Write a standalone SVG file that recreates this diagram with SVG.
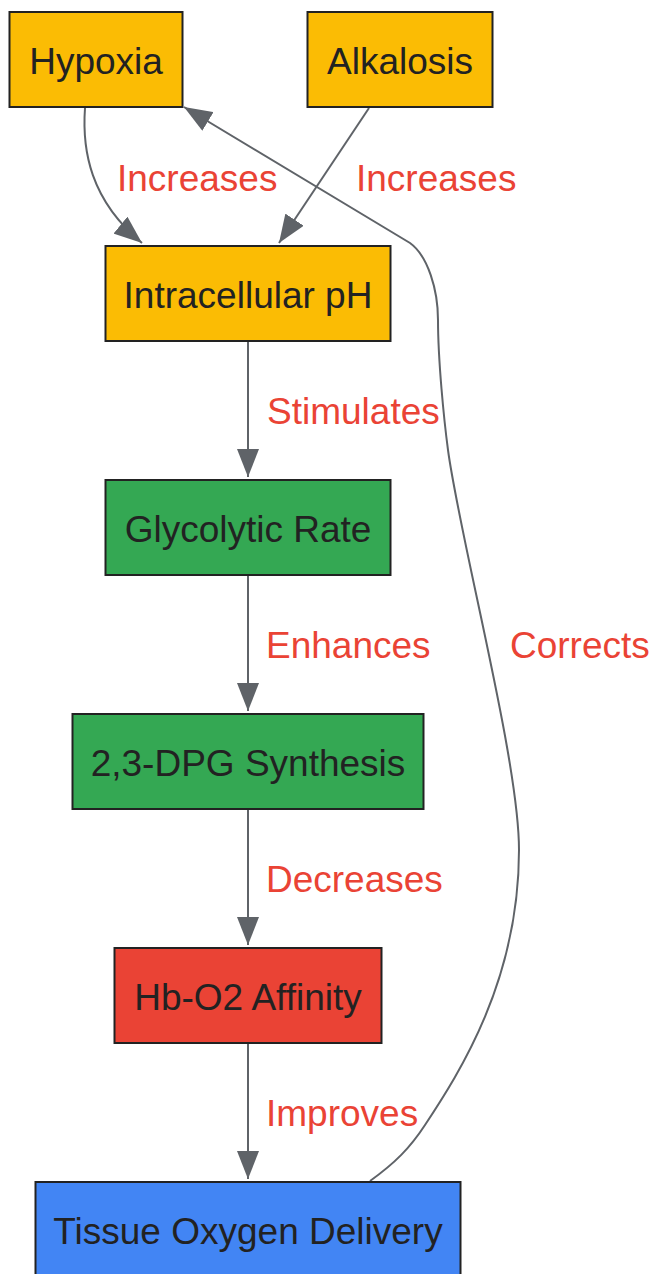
<svg xmlns="http://www.w3.org/2000/svg" width="652" height="1274" viewBox="0 0 652 1274">
<defs>
<style>
.node rect{stroke:#222;stroke-width:2}
.node text{font-family:"Liberation Sans",Arial,sans-serif;font-size:37px;fill:#222;text-anchor:middle}
.y rect{fill:#FBBC04}
.g rect{fill:#34A853}
.r rect{fill:#EA4335}
.b rect{fill:#4285F4}
.edge{fill:none;stroke:#5F6368;stroke-width:2;marker-end:url(#ah)}
.lbl{font-family:"Liberation Sans",Arial,sans-serif;font-size:37px;fill:#EA4335}
</style>
<marker id="ah" markerUnits="userSpaceOnUse" markerWidth="28" markerHeight="22" refX="28" refY="11" orient="auto" viewBox="0 0 28 22">
<path d="M0,0 L28,11 L0,22 z" fill="#5F6368"/>
</marker>
</defs>
<g id="connectors">
<path class="edge" d="M85,108 C82,150 90,200 142,243"/>
<path class="edge" d="M369,108 L279,243"/>
<path class="edge" d="M248,342 L248,477"/>
<path class="edge" d="M248,576 L248,711"/>
<path class="edge" d="M248,810 L248,945"/>
<path class="edge" d="M248,1044 L248,1179"/>
<path class="edge" d="M370,1181 C395,1163 410,1148 425,1125 C460,1072 519,980 519,850 C519,760 460,540 448,450 C444,420 438,360 438,320 C438,290 428,256 410,243 L184,107"/>
<text class="lbl" x="117" y="191">Increases</text>
<text class="lbl" x="356" y="191">Increases</text>
<text class="lbl" x="267" y="424">Stimulates</text>
<text class="lbl" x="266" y="658">Enhances</text>
<text class="lbl" x="266" y="892">Decreases</text>
<text class="lbl" x="266" y="1126">Improves</text>
<text class="lbl" x="510" y="658">Corrects</text>
</g>
<g id="hypoxia" class="node y"><rect x="9.5" y="12" width="173" height="95"/><text x="96" y="74">Hypoxia</text></g>
<g id="alkalosis" class="node y"><rect x="307.5" y="12" width="185" height="95"/><text x="400" y="74">Alkalosis</text></g>
<g id="intracellular" class="node y"><rect x="105.5" y="246" width="285" height="95"/><text x="248" y="308">Intracellular pH</text></g>
<g id="glycolytic" class="node g"><rect x="105.5" y="480" width="285" height="95"/><text x="248" y="542">Glycolytic Rate</text></g>
<g id="dpg" class="node g"><rect x="72.5" y="714" width="351" height="95"/><text x="248" y="776">2,3-DPG Synthesis</text></g>
<g id="hbo2" class="node r"><rect x="114.5" y="948" width="267" height="95"/><text x="248" y="1010">Hb-O2 Affinity</text></g>
<g id="tissue" class="node b"><rect x="35.5" y="1182" width="425" height="95"/><text x="248" y="1244">Tissue Oxygen Delivery</text></g>
</svg>
